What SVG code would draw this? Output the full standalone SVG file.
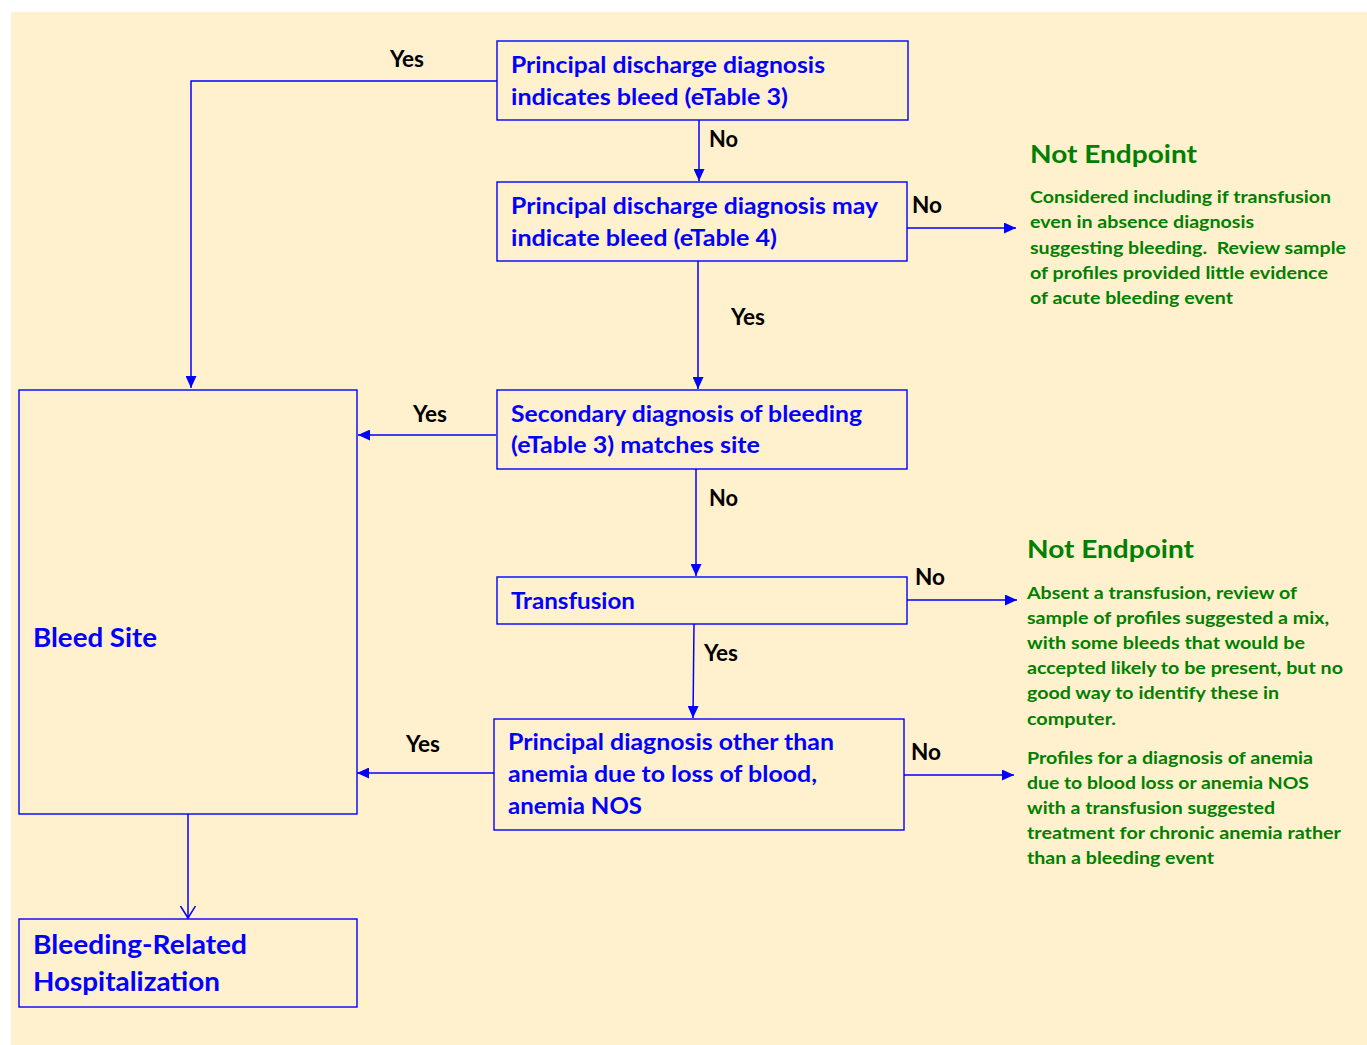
<svg xmlns="http://www.w3.org/2000/svg" width="1367" height="1045" viewBox="0 0 1367 1045">
<defs>
<style>
.box{fill:none;stroke:#0000FF;stroke-width:1.4}
.c{fill:none;stroke:#0000FF;stroke-width:1.5}
.n{font-family:Lato,"Liberation Sans",sans-serif;font-weight:700;font-size:23px;fill:#0000FF}
.big{font-family:Lato,"Liberation Sans",sans-serif;font-weight:700;font-size:27.5px;fill:#0000FF}
.l{font-family:Lato,"Liberation Sans",sans-serif;font-weight:700;font-size:23px;fill:#000000}
.h{font-family:Lato,"Liberation Sans",sans-serif;font-weight:700;font-size:25.5px;fill:#008000}
.g{font-family:Lato,"Liberation Sans",sans-serif;font-weight:700;font-size:17px;fill:#008000}
</style>
<marker id="ah" markerUnits="userSpaceOnUse" markerWidth="12" markerHeight="11" refX="12" refY="5.5" orient="auto">
<path d="M0,0 L12,5.5 L0,11 Z" fill="#0000FF"/>
</marker>
<marker id="ao" markerUnits="userSpaceOnUse" markerWidth="14" markerHeight="18" refX="12" refY="8" orient="auto">
<path d="M0,0.5 L12,8 L0,15.5" fill="none" stroke="#0000FF" stroke-width="1.5"/>
</marker>
</defs>
<rect x="11" y="12" width="1356" height="1033" fill="#FFF0CE"/>

<g id="connectors">
<polyline class="c" points="497,81 191,81 191,388" marker-end="url(#ah)"/>
<line class="c" x1="699" y1="120" x2="699" y2="181" marker-end="url(#ah)"/>
<line class="c" x1="907" y1="228" x2="1016" y2="228" marker-end="url(#ah)"/>
<line class="c" x1="698" y1="261" x2="698" y2="389" marker-end="url(#ah)"/>
<line class="c" x1="496" y1="435" x2="358" y2="435" marker-end="url(#ah)"/>
<line class="c" x1="696" y1="469" x2="696" y2="576" marker-end="url(#ah)"/>
<line class="c" x1="907" y1="600" x2="1017" y2="600" marker-end="url(#ah)"/>
<line class="c" x1="694" y1="624" x2="693" y2="718" marker-end="url(#ah)"/>
<line class="c" x1="494" y1="773" x2="357" y2="773" marker-end="url(#ah)"/>
<line class="c" x1="904" y1="775" x2="1014" y2="775" marker-end="url(#ah)"/>
<line class="c" x1="188" y1="814" x2="188" y2="918" marker-end="url(#ao)"/>
<text class="l" x="390" y="67" textLength="34" lengthAdjust="spacingAndGlyphs">Yes</text>
<text class="l" x="709" y="147" textLength="29" lengthAdjust="spacingAndGlyphs">No</text>
<text class="l" x="912" y="213" textLength="30" lengthAdjust="spacingAndGlyphs">No</text>
<text class="l" x="731" y="325" textLength="34" lengthAdjust="spacingAndGlyphs">Yes</text>
<text class="l" x="413" y="422" textLength="34" lengthAdjust="spacingAndGlyphs">Yes</text>
<text class="l" x="709" y="506" textLength="29" lengthAdjust="spacingAndGlyphs">No</text>
<text class="l" x="915" y="585" textLength="30" lengthAdjust="spacingAndGlyphs">No</text>
<text class="l" x="704" y="661" textLength="34" lengthAdjust="spacingAndGlyphs">Yes</text>
<text class="l" x="406" y="752" textLength="34" lengthAdjust="spacingAndGlyphs">Yes</text>
<text class="l" x="911" y="760" textLength="30" lengthAdjust="spacingAndGlyphs">No</text>
</g>

<g id="node-principal">
<rect class="box" x="497" y="41" width="411" height="79"/>
<text class="n" x="511" y="73" textLength="314" lengthAdjust="spacingAndGlyphs">Principal discharge diagnosis</text>
<text class="n" x="511" y="105" textLength="277" lengthAdjust="spacingAndGlyphs">indicates bleed (eTable 3)</text>
</g>

<g id="node-principal-may">
<rect class="box" x="497" y="182" width="410" height="79"/>
<text class="n" x="511" y="214" textLength="367" lengthAdjust="spacingAndGlyphs">Principal discharge diagnosis may</text>
<text class="n" x="511" y="246" textLength="266" lengthAdjust="spacingAndGlyphs">indicate bleed (eTable 4)</text>
</g>

<g id="node-secondary">
<rect class="box" x="497" y="390" width="410" height="79"/>
<text class="n" x="511" y="422" textLength="351" lengthAdjust="spacingAndGlyphs">Secondary diagnosis of bleeding</text>
<text class="n" x="511" y="453" textLength="249" lengthAdjust="spacingAndGlyphs">(eTable 3) matches site</text>
</g>

<g id="node-transfusion">
<rect class="box" x="497" y="577" width="410" height="47"/>
<text class="n" x="511" y="609" textLength="124" lengthAdjust="spacingAndGlyphs">Transfusion</text>
</g>

<g id="node-principal-other">
<rect class="box" x="494" y="719" width="410" height="111"/>
<text class="n" x="508" y="750" textLength="326" lengthAdjust="spacingAndGlyphs">Principal diagnosis other than</text>
<text class="n" x="508" y="782" textLength="309" lengthAdjust="spacingAndGlyphs">anemia due to loss of blood,</text>
<text class="n" x="508" y="814" textLength="134" lengthAdjust="spacingAndGlyphs">anemia NOS</text>
</g>

<g id="node-bleed-site">
<rect class="box" x="19" y="390" width="338" height="424"/>
<text class="big" x="33" y="647" textLength="124" lengthAdjust="spacingAndGlyphs">Bleed Site</text>
</g>

<g id="node-bleeding-related">
<rect class="box" x="19" y="919" width="338" height="88"/>
<text class="big" x="33" y="954" textLength="214" lengthAdjust="spacingAndGlyphs">Bleeding-Related</text>
<text class="big" x="33" y="991" textLength="187" lengthAdjust="spacingAndGlyphs">Hospitalization</text>
</g>

<g id="note-1">
<text class="h" x="1030" y="163" textLength="167" lengthAdjust="spacingAndGlyphs">Not Endpoint</text>
<text class="g" x="1030" y="203" textLength="301" lengthAdjust="spacingAndGlyphs">Considered including if transfusion</text>
<text class="g" x="1030" y="228" textLength="224" lengthAdjust="spacingAndGlyphs">even in absence diagnosis</text>
<text class="g" x="1030" y="254" textLength="316" lengthAdjust="spacingAndGlyphs" xml:space="preserve">suggesting bleeding.  Review sample</text>
<text class="g" x="1030" y="279" textLength="298" lengthAdjust="spacingAndGlyphs">of profiles provided little evidence</text>
<text class="g" x="1030" y="304" textLength="203" lengthAdjust="spacingAndGlyphs">of acute bleeding event</text>
</g>

<g id="note-2">
<text class="h" x="1027" y="558" textLength="167" lengthAdjust="spacingAndGlyphs">Not Endpoint</text>
<text class="g" x="1027" y="599" textLength="270" lengthAdjust="spacingAndGlyphs">Absent a transfusion, review of</text>
<text class="g" x="1027" y="624" textLength="302" lengthAdjust="spacingAndGlyphs">sample of profiles suggested a mix,</text>
<text class="g" x="1027" y="649" textLength="278" lengthAdjust="spacingAndGlyphs">with some bleeds that would be</text>
<text class="g" x="1027" y="674" textLength="316" lengthAdjust="spacingAndGlyphs">accepted likely to be present, but no</text>
<text class="g" x="1027" y="699" textLength="252" lengthAdjust="spacingAndGlyphs">good way to identify these in</text>
<text class="g" x="1027" y="725" textLength="89" lengthAdjust="spacingAndGlyphs">computer.</text>
</g>

<g id="note-3">
<text class="g" x="1027" y="764" textLength="286" lengthAdjust="spacingAndGlyphs">Profiles for a diagnosis of anemia</text>
<text class="g" x="1027" y="789" textLength="282" lengthAdjust="spacingAndGlyphs">due to blood loss or anemia NOS</text>
<text class="g" x="1027" y="814" textLength="248" lengthAdjust="spacingAndGlyphs">with a transfusion suggested</text>
<text class="g" x="1027" y="839" textLength="314" lengthAdjust="spacingAndGlyphs">treatment for chronic anemia rather</text>
<text class="g" x="1027" y="864" textLength="187" lengthAdjust="spacingAndGlyphs">than a bleeding event</text>
</g>
</svg>
